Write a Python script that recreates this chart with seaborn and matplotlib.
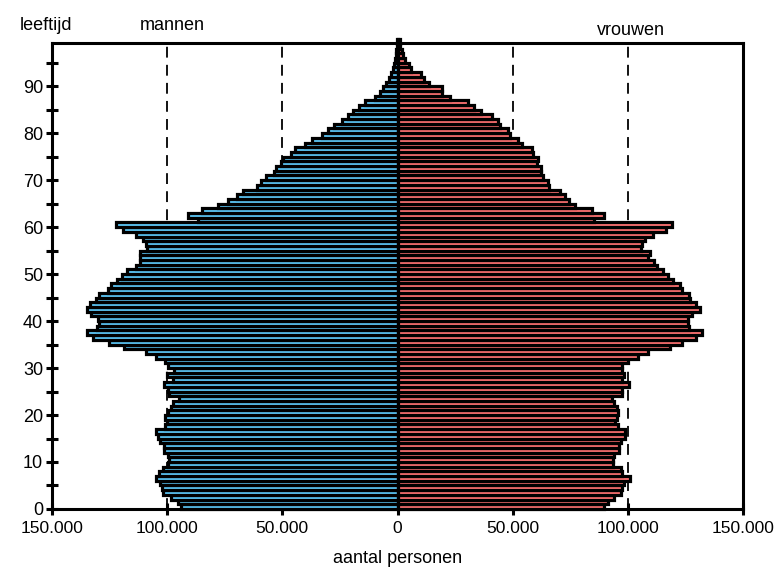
import numpy as np
import pandas as pd
import matplotlib
matplotlib.use("Agg")
import matplotlib.pyplot as plt
import seaborn as sns
from matplotlib.ticker import FuncFormatter, MultipleLocator

# leeftijd 0..99
ages = list(range(100))

# aantal mannen per leeftijd (duizenden)
mannen = [94.1, 95.5, 98.4, 102, 102.4, 103.3, 104.9, 103.5, 102, 99.6,
          99, 99.6, 101.4, 101.4, 103, 104, 105, 101, 100, 100.8,
          99.6, 98.4, 97.5, 94.9, 99, 99.6, 101.4, 97.6, 100, 97,
          99.6, 100.8, 105, 109, 118.6, 125.3, 132.4, 134.9, 130.4, 129.8,
          130, 133, 134.9, 133.3, 131, 129.4, 125.9, 124.5, 121.6, 119.6,
          117.3, 113.7, 111.8, 111.8, 111.8, 108.8, 109.2, 110.4, 113.7, 119,
          122.4, 86.7, 90.8, 84.9, 78, 73.5, 69.6, 67, 61.2, 59.4,
          56.9, 53.5, 52.9, 50.6, 49.8, 46.1, 44.5, 40.2, 37.3, 32.9,
          30.2, 27.5, 23.9, 21.6, 19.2, 16.7, 14.1, 9.8, 7.8, 6.3,
          4.9, 3.9, 2.9, 2.0, 1.4, 1.0, 0.6, 0.6, 0.4, 0.3]

# aantal vrouwen per leeftijd (duizenden)
vrouwen = [89.8, 91.4, 93.9, 97, 97.6, 98.4, 101, 97.6, 97, 93.5,
           93.5, 94.1, 96, 96, 97, 98.8, 98.6, 95.7, 94.3, 95.1,
           95.7, 95.1, 94.1, 93, 97.6, 97.6, 100.4, 97.6, 98.4, 97.6,
           97.6, 100, 104.5, 108.8, 118.2, 123.5, 129.4, 132.4, 126.5, 125.9,
           125.9, 127.8, 131.4, 129.4, 127, 126.5, 123.5, 122.7, 119.6, 117.3,
           115.1, 112.7, 111.4, 108.8, 109.8, 105.5, 106.3, 107.5, 110.8, 116.7,
           119.2, 85.3, 89.8, 84.3, 77.1, 74.5, 72.5, 70.6, 65.7, 65.3,
           63.1, 62.4, 62.2, 60.4, 60.8, 58.8, 58.2, 53.9, 52.5, 49,
           48, 44.7, 43.7, 41.2, 36.3, 33.3, 30.8, 22.7, 19.2, 19.2,
           13.7, 11.4, 10.2, 5.9, 5.1, 3.3, 2.5, 2.0, 1.2, 1.0]

x_ticks = [-150000, -100000, -50000, 0, 50000, 100000, 150000]

df = pd.DataFrame({
    "leeftijd": np.array(ages) + 0.5,
    "mannen": -np.array(mannen) * 1000,
    "vrouwen": np.array(vrouwen) * 1000,
})

sns.set_style("ticks", {"axes.edgecolor": "black", "text.color": "black",
                        "xtick.color": "black", "ytick.color": "black",
                        "axes.labelcolor": "black"})
plt.rcParams["font.family"] = ["Liberation Sans", "DejaVu Sans"]

fig = plt.figure(figsize=(7.74, 5.77), dpi=100)
ax = fig.add_axes([0.0672, 0.1179, 0.8928, 0.8076])

for xv in [-100000, -50000, 50000, 100000]:
    ax.axvline(xv, color="black", lw=1.3, ls=(0, (6, 4)), zorder=0)

sns.barplot(data=df, x="mannen", y="leeftijd", orient="y", native_scale=True,
            color="#5ec8f8", saturation=1, width=1, errorbar=None,
            edgecolor="black", linewidth=2.3, ax=ax, zorder=2)
sns.barplot(data=df, x="vrouwen", y="leeftijd", orient="y", native_scale=True,
            color="#ff7373", saturation=1, width=1, errorbar=None,
            edgecolor="black", linewidth=2.3, ax=ax, zorder=2)

for p in ax.patches:
    p.set_clip_on(False)

ax.set_xlim(-150000, 150000)
ax.set_ylim(0, 99.2)
ax.set_xticks(x_ticks)
ax.xaxis.set_major_formatter(FuncFormatter(lambda v, pos: f"{abs(int(v)):,}".replace(",", ".")))
ax.yaxis.set_major_locator(MultipleLocator(10))
ax.yaxis.set_minor_locator(MultipleLocator(5))
ax.tick_params(axis="y", which="both", direction="inout", length=9, width=2.2, labelsize=13, pad=2)
ax.tick_params(axis="x", which="both", direction="inout", length=9, width=2.2, labelsize=12.5, pad=4)

for s in ax.spines.values():
    s.set_linewidth(2.2)
    s.set_visible(True)

ax.set_xlabel("aantal personen", fontsize=13, labelpad=10)
ax.set_ylabel("")

fig.text(0.026, 0.955, "leeftijd", fontsize=13, ha="left", va="center")
fig.text(0.222, 0.955, "mannen", fontsize=13, ha="center", va="center")
fig.text(0.815, 0.947, "vrouwen", fontsize=13, ha="center", va="center")

fig.savefig("out.png", dpi=100)
